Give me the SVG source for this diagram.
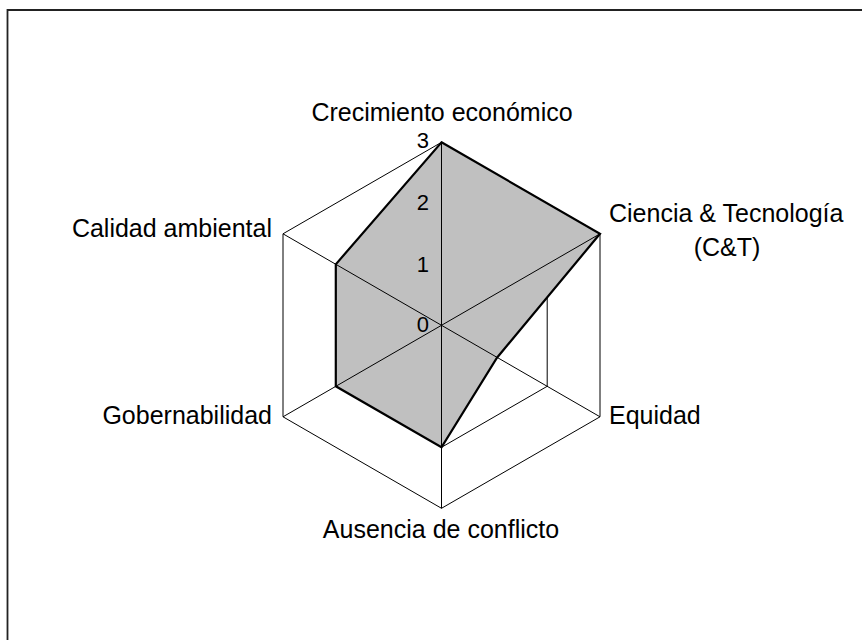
<svg xmlns="http://www.w3.org/2000/svg" width="862" height="640" viewBox="0 0 862 640">
<style>
.grid{fill:none;stroke:#000;stroke-width:1}
.axis{stroke:#000;stroke-width:1}
.data-fill{fill:#c0c0c0;stroke:none}
.data-line{fill:none;stroke:#000;stroke-width:2.2;stroke-linejoin:miter}
text{font-family:"Liberation Sans",Arial,sans-serif;font-size:25px;fill:#000}
.tick{font-size:22px}
</style>
<rect width="862" height="640" fill="#fff"/>
<g id="frame">
<polyline points="7.5,640 7.5,10 862,10" fill="none" stroke="#222" stroke-width="1.8"/>
</g>
<g id="grid">
<polygon class="grid" points="441.5,142.3 600,233.8 600,416.8 441.5,508.3 283,416.8 283,233.8"/>
<polygon class="grid" points="441.5,203.3 547.2,264.3 547.2,386.3 441.5,447.3 335.8,386.3 335.8,264.3"/>
<polygon class="grid" points="441.5,264.3 494.3,294.8 494.3,355.8 441.5,386.3 388.7,355.8 388.7,294.8"/>
</g>
<g id="series">
<polygon class="data-fill" points="441.5,142.3 600,233.8 497,357.7 441.5,447.3 335.8,386.3 335.8,264.3"/>
</g>
<g id="connectors">
<line class="axis" x1="441.5" y1="325.3" x2="441.5" y2="142.3"/>
<line class="axis" x1="441.5" y1="325.3" x2="600" y2="233.8"/>
<line class="axis" x1="441.5" y1="325.3" x2="600" y2="416.8"/>
<line class="axis" x1="441.5" y1="325.3" x2="441.5" y2="508.3"/>
<line class="axis" x1="441.5" y1="325.3" x2="283" y2="416.8"/>
<line class="axis" x1="441.5" y1="325.3" x2="283" y2="233.8"/>
</g>
<g id="series-outline">
<polygon class="data-line" points="441.5,142.3 600,233.8 497,357.7 441.5,447.3 335.8,386.3 335.8,264.3"/>
</g>
<g id="scale">
<text class="tick" x="429" y="148" text-anchor="end">3</text>
<text class="tick" x="429" y="210" text-anchor="end">2</text>
<text class="tick" x="429" y="272" text-anchor="end">1</text>
<text class="tick" x="429" y="332" text-anchor="end">0</text>
</g>
<g id="node-crecimiento"><text x="442" y="121" text-anchor="middle">Crecimiento económico</text></g>
<g id="node-cyt"><text x="609" y="222">Ciencia &amp; Tecnología</text><text x="727" y="256" text-anchor="middle">(C&amp;T)</text></g>
<g id="node-equidad"><text x="609" y="424">Equidad</text></g>
<g id="node-ausencia"><text x="441" y="538" text-anchor="middle">Ausencia de conflicto</text></g>
<g id="node-gobernabilidad"><text x="272" y="424" text-anchor="end">Gobernabilidad</text></g>
<g id="node-calidad"><text x="272" y="237" text-anchor="end">Calidad ambiental</text></g>
</svg>
